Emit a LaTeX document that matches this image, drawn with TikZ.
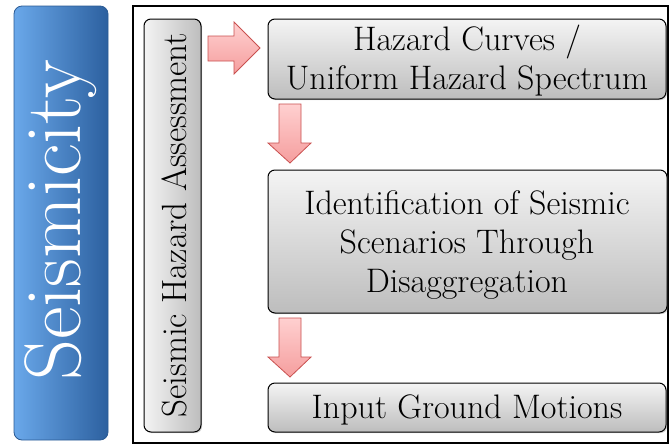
\documentclass[tikz,border=0pt]{standalone}
\usepackage{fontspec}
\usetikzlibrary{shadows}
\definecolor{blueL}{HTML}{6AA8EA}
\definecolor{blueM}{HTML}{3E7DCB}
\definecolor{blueR}{HTML}{2C609F}
\definecolor{blueB}{HTML}{2A5A94}
\definecolor{grayT}{HTML}{F4F4F4}
\definecolor{grayB}{HTML}{BDBDBD}
\definecolor{pinkT}{HTML}{FFD0D0}
\definecolor{pinkB}{HTML}{F59E9E}
\definecolor{pinkE}{HTML}{C9504F}
\tikzset{
  x=1pt, y=-1pt,
  greybox/.style={draw=black, line width=1pt, rounded corners=7pt,
    top color=grayT, bottom color=grayB,
    drop shadow={shadow xshift=1.2pt, shadow yshift=-1.2pt, opacity=0.35}},
  blockarrow/.style={draw=pinkE, line width=0.8pt, top color=pinkT, bottom color=pinkB},
  boxtext/.style={font=\fontsize{34}{39}\selectfont, align=center, inner sep=0pt},
}
\begin{document}
\begin{tikzpicture}
\useasboundingbox (0,0) rectangle (670,445);
% left title bar
\draw[draw=blueB, line width=0.8pt, rounded corners=8pt, left color=blueL, middle color=blueM, right color=blueR]
  (14,6) rectangle (108,440);
\node[rotate=90, text=white, font=\fontsize{80}{86}\selectfont, inner sep=0pt] (title) at (61,220) {Seismicity};
% outer frame
\draw[line width=2.4pt] (133,6) rectangle (668,443);
% vertical label box
\path[greybox, left color=grayT, right color=grayB] (144,19) rectangle (201,432);
\node[rotate=90, font=\fontsize{35}{40}\selectfont, inner sep=0pt] (sha) at (174,225) {Seismic Hazard Assessment};
% process boxes
\path[greybox] (268,19) rectangle (666,99);
\node[boxtext] (hc) at (467,61) {Hazard Curves /\\Uniform Hazard Spectrum};
\path[greybox] (268,170) rectangle (667,313);
\node[boxtext] (id) at (467,245) {Identification of Seismic\\Scenarios Through\\Disaggregation};
\path[greybox] (268,383) rectangle (666,432);
\node[boxtext] (igm) at (467,410) {Input Ground Motions};
% block arrows
\draw[blockarrow] (208,36) -- (234,36) -- (234,22) -- (260,48) -- (234,74) -- (234,61) -- (208,61) -- cycle;
\draw[blockarrow] (279,104) -- (301,104) -- (301,143) -- (311,143) -- (290,163) -- (268,143) -- (279,143) -- cycle;
\draw[blockarrow] (279,318) -- (301,318) -- (301,357) -- (311,357) -- (290,377) -- (268,357) -- (279,357) -- cycle;
\end{tikzpicture}
\end{document}
